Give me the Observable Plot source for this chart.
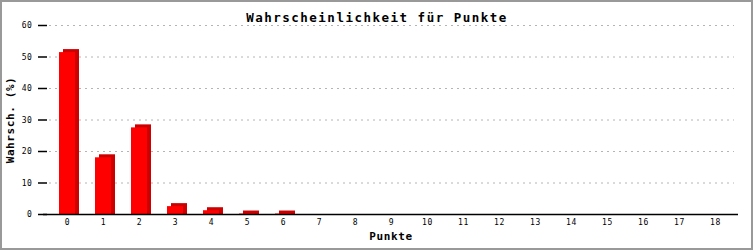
<!DOCTYPE html>
<html>
<head>
<meta charset="utf-8">
<script src="https://cdn.jsdelivr.net/npm/d3@7"></script>
<script src="https://cdn.jsdelivr.net/npm/@observablehq/plot@0.6"></script>
<style>
  body { margin: 0; background: #fff; }
  #chart svg { display: block; outline: 2px solid #999; outline-offset: -2px; }
</style>
</head>
<body>
<div id="chart"></div>
<script>
const punkte = ["0","1","2","3","4","5","6","7","8","9","10","11","12","13","14","15","16","17","18"];
const wahrsch = [51.4, 18.0, 27.5, 2.5, 1.2, 0.15, 0.15, 0, 0, 0, 0, 0, 0, 0, 0, 0, 0, 0, 0];
const yTicks = [0, 10, 20, 30, 40, 50, 60];
const title = "Wahrscheinlichkeit für Punkte";
const xLabel = "Punkte";
const yLabel = "Wahrsch. (%)";

const data = punkte.map((p, i) => ({punkte: p, wert: wahrsch[i]}));
const shown = data.filter(d => d.wert > 0);
const mono = "DejaVu Sans Mono, Liberation Mono, monospace";

const chart = Plot.plot({
  width: 753,
  height: 250,
  marginLeft: 43,
  marginRight: 15,
  marginTop: 25,
  marginBottom: 36,
  style: {fontFamily: mono, background: "#fff", color: "#000"},
  x: {type: "band", domain: punkte, padding: 0},
  y: {domain: [0, 60]},
  marks: [
    Plot.gridY(yTicks.filter(t => t > 0), {stroke: "#b4b4b4", strokeOpacity: 1, strokeDasharray: "2,4", insetLeft: 6, insetRight: 4}),
    Plot.barY(shown, {x: "punkte", y: "wert", fill: "#cc0000", dx: 4, insetTop: -3, insetLeft: 10, insetRight: 10}),
    Plot.barY(shown, {x: "punkte", y: "wert", fill: "#ff0000", insetLeft: 10, insetRight: 10}),
    Plot.ruleY([0], {stroke: "#000", strokeWidth: 1.5}),
    Plot.axisY({ticks: yTicks, tickSize: 5, tickPadding: 6, line: true, label: null, fontSize: 8, stroke: "#000", strokeWidth: 1.5}),
    Plot.axisY({ticks: yTicks, tickSize: -4, tickFormat: () => "", label: null, stroke: "#000", strokeWidth: 1.5}),
    Plot.axisY({anchor: "right", ticks: [], line: true, label: null, stroke: "#000", strokeWidth: 1.5}),
    Plot.axisX({tickSize: 0, tickPadding: 5, label: null, fontSize: 8}),
    Plot.text([title], {frameAnchor: "top", dx: -14, dy: -12, fontSize: 12.5, fontWeight: "bold", fill: "#000", fontFamily: mono}),
    Plot.text([xLabel], {frameAnchor: "bottom", dy: 25, fontSize: 11, fontWeight: "bold", fill: "#000", fontFamily: mono}),
    Plot.text([yLabel], {frameAnchor: "left", textAnchor: "middle", dx: -33, rotate: -90, fontSize: 11, fontWeight: "bold", fill: "#000", fontFamily: mono})
  ]
});
document.getElementById("chart").append(chart);

const spacing = new Map([[title, "1.5px"], [xLabel, "0.6px"], [yLabel, "0.6px"]]);
d3.select(chart).selectAll("text").each(function() {
  const t = this.textContent;
  if (spacing.has(t)) this.style.letterSpacing = spacing.get(t);
  else if (/^\d+$/.test(t)) this.style.letterSpacing = "0.6px";
});
</script>
</body>
</html>
